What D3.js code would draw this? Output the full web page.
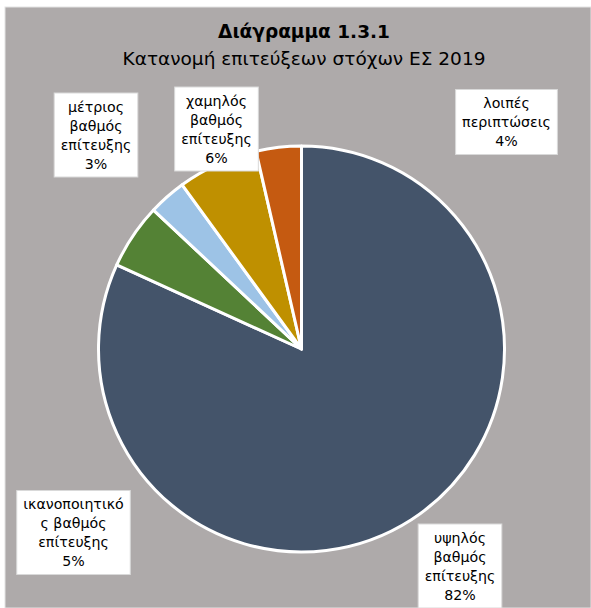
<!DOCTYPE html>
<html>
<head>
<meta charset="utf-8">
<script src="https://cdn.jsdelivr.net/npm/d3@7"></script>
<style>
  html, body { margin: 0; padding: 0; background: #fff; }
  svg { display: block; }
  text { font-family: "DejaVu Sans", sans-serif; fill: #000; }
</style>
</head>
<body>
<script>
// chart data
const categories = [
  "υψηλός\nβαθμός\nεπίτευξης",
  "ικανοποιητικό\nς βαθμός\nεπίτευξης",
  "μέτριος\nβαθμός\nεπίτευξης",
  "χαμηλός\nβαθμός\nεπίτευξης",
  "λοιπές\nπεριπτώσεις"
];
const values = [81.8, 5.2, 3.0, 6.4, 3.6];
const colors = ["#44546a", "#548235", "#9dc3e6", "#bf9000", "#c55a11"];
// where each data label box sits (centre)
const labelPos = [[460, 566], [73.5, 532.5], [96, 135], [216.5, 129], [506.5, 122]];

const title = "Διάγραμμα 1.3.1";
const subtitle = "Κατανομή επιτεύξεων στόχων ΕΣ 2019";

const width = 591, height = 608;
const cx = 301.5, cy = 349, radius = 203;

const svg = d3.select("body").append("svg").attr("width", width).attr("height", height);

svg.append("rect")
  .attr("x", 5).attr("y", 7).attr("width", width - 5).attr("height", height - 7)
  .attr("fill", "#aeaaaa").attr("stroke", "#e3e3e3").attr("stroke-width", 1);

svg.append("text").attr("x", 304).attr("y", 38)
  .attr("text-anchor", "middle").attr("font-size", 18.5).attr("font-weight", "bold")
  .text(title);
svg.append("text").attr("x", 304).attr("y", 65)
  .attr("text-anchor", "middle").attr("font-size", 18.5)
  .text(subtitle);

const total = d3.sum(values);
const pct = d3.format(".0%");
const pie = d3.pie().sort(null).value(d => d);
const arc = d3.arc().innerRadius(0).outerRadius(radius);

const chart = svg.append("g").attr("transform", `translate(${cx},${cy})`);

chart.selectAll("path").data(pie(values))
  .enter()
  .append("path")
  .attr("d", arc)
  .attr("fill", (d, i) => colors[i])
  .attr("stroke", "#fff")
  .attr("stroke-width", 3)
  .attr("stroke-linejoin", "round");

const lineH = 19;
const labels = svg.append("g").selectAll("g").data(values)
  .enter()
  .append("g")
  .attr("transform", (d, i) => `translate(${labelPos[i][0]},${labelPos[i][1]})`);

labels.each(function(d, i) {
  const g = d3.select(this);
  const lines = categories[i].split("\n").concat([pct(d / total)]);
  const h = lines.length * lineH + 8;
  const box = g.append("rect").attr("fill", "#fff").attr("stroke", "#d9d9d9").attr("stroke-width", 1);
  const t = g.append("text").attr("text-anchor", "middle").attr("font-size", 14.2);
  lines.forEach((s, k) => {
    t.append("tspan").attr("x", 0)
      .attr("y", -h / 2 + 4 + lineH * k + 14.5)
      .text(s);
  });
  const w = t.node().getBBox().width + 13;
  box.attr("x", -w / 2).attr("y", -h / 2).attr("width", w).attr("height", h);
});
</script>
</body>
</html>
